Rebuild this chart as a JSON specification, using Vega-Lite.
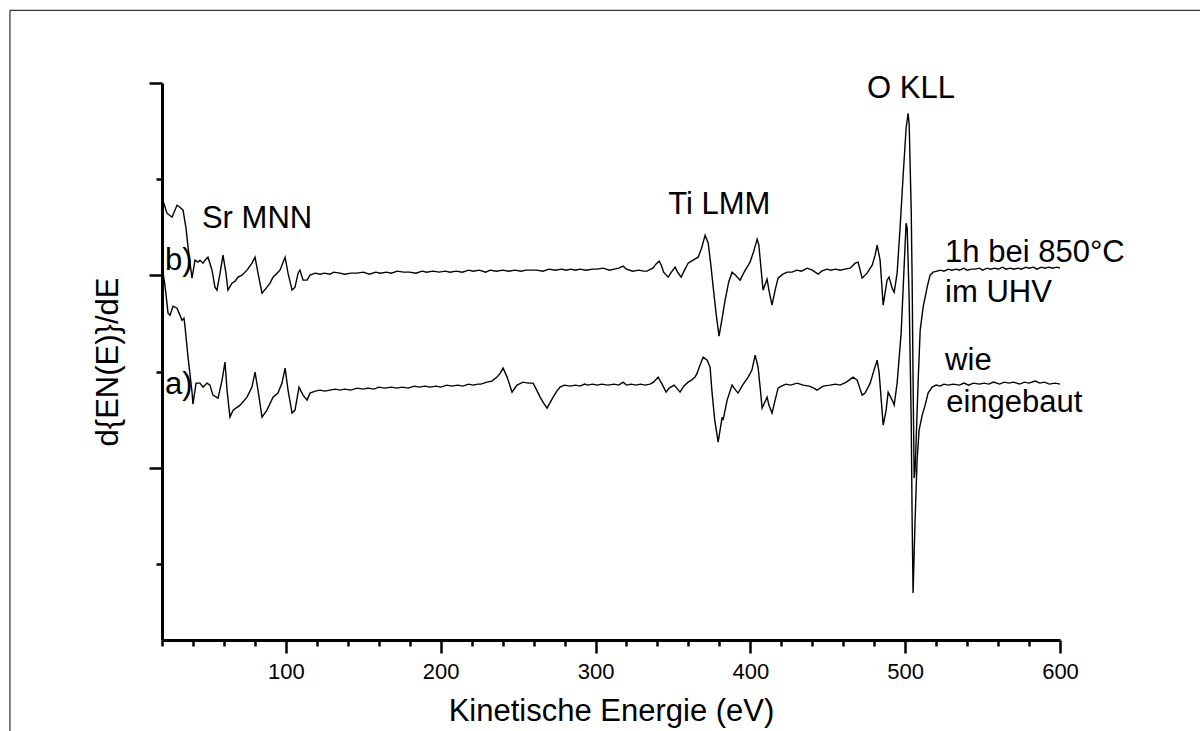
{
  "$schema": "https://vega.github.io/schema/vega-lite/v6.json",
  "width": 898,
  "height": 557,
  "autosize": {"type": "none"},
  "padding": {"left": 162, "top": 83, "right": 140, "bottom": 91},
  "background": "white",
  "config": {"view": {"stroke": null}, "font": "Liberation Sans"},
  "datasets": {
    "spectra": [
      {"series":"b","energy":20.6,"intensity":364},{"series":"b","energy":23.2,"intensity":351},{"series":"b","energy":26.5,"intensity":347},{"series":"b","energy":29.7,"intensity":359},{"series":"b","energy":31.6,"intensity":357},{"series":"b","energy":33.6,"intensity":354},{"series":"b","energy":35.5,"intensity":336},{"series":"b","energy":37.4,"intensity":309},{"series":"b","energy":39.4,"intensity":286},{"series":"b","energy":41.3,"intensity":304},{"series":"b","energy":43.3,"intensity":302},{"series":"b","energy":44.5,"intensity":304},{"series":"b","energy":46.5,"intensity":301},{"series":"b","energy":47.8,"intensity":304},{"series":"b","energy":49.7,"intensity":307},{"series":"b","energy":52.3,"intensity":294},{"series":"b","energy":54.2,"intensity":277},{"series":"b","energy":55.5,"intensity":274},{"series":"b","energy":57.5,"intensity":291},{"series":"b","energy":59.4,"intensity":309},{"series":"b","energy":61.3,"intensity":291},{"series":"b","energy":62.6,"intensity":274},{"series":"b","energy":65.2,"intensity":281},{"series":"b","energy":67.2,"intensity":283},{"series":"b","energy":69.1,"intensity":287},{"series":"b","energy":71.7,"intensity":289},{"series":"b","energy":74.9,"intensity":294},{"series":"b","energy":78.1,"intensity":301},{"series":"b","energy":80.1,"intensity":307},{"series":"b","energy":82.0,"intensity":291},{"series":"b","energy":84.6,"intensity":271},{"series":"b","energy":87.8,"intensity":277},{"series":"b","energy":89.8,"intensity":281},{"series":"b","energy":91.7,"intensity":287},{"series":"b","energy":94.3,"intensity":291},{"series":"b","energy":96.2,"intensity":294},{"series":"b","energy":99.5,"intensity":307},{"series":"b","energy":101.4,"intensity":291},{"series":"b","energy":104.0,"intensity":274},{"series":"b","energy":105.9,"intensity":277},{"series":"b","energy":107.9,"intensity":291},{"series":"b","energy":109.1,"intensity":294},{"series":"b","energy":111.1,"intensity":284},{"series":"b","energy":113.7,"intensity":284},{"series":"b","energy":115.6,"intensity":289},{"series":"b","energy":119,"intensity":291},{"series":"b","energy":122.1,"intensity":290},{"series":"b","energy":125,"intensity":291},{"series":"b","energy":128.5,"intensity":290},{"series":"b","energy":131,"intensity":292},{"series":"b","energy":135,"intensity":291},{"series":"b","energy":138,"intensity":290},{"series":"b","energy":142,"intensity":291},{"series":"b","energy":146,"intensity":291},{"series":"b","energy":150,"intensity":292},{"series":"b","energy":154,"intensity":290},{"series":"b","energy":158,"intensity":292},{"series":"b","energy":161,"intensity":291},{"series":"b","energy":165,"intensity":292},{"series":"b","energy":168,"intensity":291},{"series":"b","energy":172,"intensity":293},{"series":"b","energy":176,"intensity":292},{"series":"b","energy":180,"intensity":292},{"series":"b","energy":184,"intensity":291},{"series":"b","energy":188,"intensity":293},{"series":"b","energy":191,"intensity":292},{"series":"b","energy":195,"intensity":293},{"series":"b","energy":199,"intensity":292},{"series":"b","energy":203,"intensity":293},{"series":"b","energy":206,"intensity":292},{"series":"b","energy":210,"intensity":293},{"series":"b","energy":214,"intensity":292},{"series":"b","energy":218,"intensity":294},{"series":"b","energy":221,"intensity":293},{"series":"b","energy":225,"intensity":294},{"series":"b","energy":229,"intensity":292},{"series":"b","energy":232,"intensity":294},{"series":"b","energy":236,"intensity":293},{"series":"b","energy":240,"intensity":294},{"series":"b","energy":244,"intensity":293},{"series":"b","energy":248,"intensity":294},{"series":"b","energy":252,"intensity":293},{"series":"b","energy":255,"intensity":294},{"series":"b","energy":259,"intensity":294},{"series":"b","energy":262,"intensity":294},{"series":"b","energy":266,"intensity":293},{"series":"b","energy":270,"intensity":295},{"series":"b","energy":274,"intensity":294},{"series":"b","energy":278,"intensity":295},{"series":"b","energy":281,"intensity":294},{"series":"b","energy":284,"intensity":295},{"series":"b","energy":287,"intensity":294},{"series":"b","energy":290,"intensity":295},{"series":"b","energy":294,"intensity":294},{"series":"b","energy":298,"intensity":295},{"series":"b","energy":301,"intensity":295},{"series":"b","energy":305,"intensity":296},{"series":"b","energy":309,"intensity":294},{"series":"b","energy":312,"intensity":295},{"series":"b","energy":315,"intensity":296},{"series":"b","energy":317.8,"intensity":298},{"series":"b","energy":320,"intensity":295},{"series":"b","energy":324,"intensity":293},{"series":"b","energy":328,"intensity":294},{"series":"b","energy":331,"intensity":293},{"series":"b","energy":333.3,"intensity":293},{"series":"b","energy":337,"intensity":296},{"series":"b","energy":339,"intensity":300},{"series":"b","energy":341.1,"intensity":303},{"series":"b","energy":342.5,"intensity":299},{"series":"b","energy":344,"intensity":292},{"series":"b","energy":346.9,"intensity":287},{"series":"b","energy":349,"intensity":292},{"series":"b","energy":351.4,"intensity":297},{"series":"b","energy":353,"intensity":292},{"series":"b","energy":355.3,"intensity":287},{"series":"b","energy":357.5,"intensity":294},{"series":"b","energy":359.8,"intensity":301},{"series":"b","energy":363,"intensity":304},{"series":"b","energy":366.3,"intensity":307},{"series":"b","energy":368.5,"intensity":316},{"series":"b","energy":370.8,"intensity":329},{"series":"b","energy":372.8,"intensity":321},{"series":"b","energy":374.5,"intensity":299},{"series":"b","energy":376,"intensity":277},{"series":"b","energy":378,"intensity":249},{"series":"b","energy":379.8,"intensity":228},{"series":"b","energy":381.8,"intensity":246},{"series":"b","energy":383.7,"intensity":264},{"series":"b","energy":386,"intensity":282},{"series":"b","energy":388.2,"intensity":292},{"series":"b","energy":390.5,"intensity":289},{"series":"b","energy":393.4,"intensity":284},{"series":"b","energy":396,"intensity":292},{"series":"b","energy":399.8,"intensity":302},{"series":"b","energy":402,"intensity":312},{"series":"b","energy":404.4,"intensity":325},{"series":"b","energy":405.5,"intensity":319},{"series":"b","energy":407,"intensity":294},{"series":"b","energy":408.2,"intensity":274},{"series":"b","energy":410.8,"intensity":285},{"series":"b","energy":412,"intensity":274},{"series":"b","energy":414,"intensity":259},{"series":"b","energy":416,"intensity":274},{"series":"b","energy":417.9,"intensity":286},{"series":"b","energy":421,"intensity":290},{"series":"b","energy":423.8,"intensity":292},{"series":"b","energy":427,"intensity":292},{"series":"b","energy":430,"intensity":294},{"series":"b","energy":433,"intensity":293},{"series":"b","energy":436.7,"intensity":296},{"series":"b","energy":440,"intensity":294},{"series":"b","energy":443.8,"intensity":290},{"series":"b","energy":446,"intensity":293},{"series":"b","energy":449.6,"intensity":295},{"series":"b","energy":452,"intensity":294},{"series":"b","energy":455,"intensity":295},{"series":"b","energy":458,"intensity":294},{"series":"b","energy":461,"intensity":295},{"series":"b","energy":464.4,"intensity":296},{"series":"b","energy":467.7,"intensity":301},{"series":"b","energy":469.6,"intensity":302},{"series":"b","energy":472.2,"intensity":286},{"series":"b","energy":475.4,"intensity":291},{"series":"b","energy":478.7,"intensity":299},{"series":"b","energy":480.6,"intensity":309},{"series":"b","energy":481.9,"intensity":319},{"series":"b","energy":483.8,"intensity":304},{"series":"b","energy":485.8,"intensity":259},{"series":"b","energy":488.3,"intensity":284},{"series":"b","energy":489.6,"intensity":287},{"series":"b","energy":491.6,"intensity":276},{"series":"b","energy":492.9,"intensity":272},{"series":"b","energy":494.8,"intensity":291},{"series":"b","energy":496.7,"intensity":336},{"series":"b","energy":498.7,"intensity":389},{"series":"b","energy":500.6,"intensity":436},{"series":"b","energy":501.9,"intensity":451},{"series":"b","energy":502.6,"intensity":439},{"series":"b","energy":503.9,"intensity":354},{"series":"b","energy":504.5,"intensity":284},{"series":"b","energy":505.1,"intensity":184},{"series":"b","energy":505.8,"intensity":86},{"series":"b","energy":506.4,"intensity":94},{"series":"b","energy":507.1,"intensity":124},{"series":"b","energy":508.4,"intensity":184},{"series":"b","energy":509.7,"intensity":234},{"series":"b","energy":511.6,"intensity":257},{"series":"b","energy":514.2,"intensity":277},{"series":"b","energy":516.1,"intensity":289},{"series":"b","energy":518,"intensity":292},{"series":"b","energy":520.6,"intensity":293},{"series":"b","energy":523,"intensity":294},{"series":"b","energy":525,"intensity":293},{"series":"b","energy":528,"intensity":295},{"series":"b","energy":530,"intensity":294},{"series":"b","energy":533,"intensity":295},{"series":"b","energy":535,"intensity":294},{"series":"b","energy":538,"intensity":296},{"series":"b","energy":540,"intensity":294},{"series":"b","energy":543,"intensity":295},{"series":"b","energy":545,"intensity":295},{"series":"b","energy":548,"intensity":296},{"series":"b","energy":550,"intensity":294},{"series":"b","energy":553,"intensity":296},{"series":"b","energy":555,"intensity":295},{"series":"b","energy":558,"intensity":296},{"series":"b","energy":560,"intensity":295},{"series":"b","energy":563,"intensity":297},{"series":"b","energy":565,"intensity":295},{"series":"b","energy":568,"intensity":296},{"series":"b","energy":570,"intensity":295},{"series":"b","energy":573,"intensity":296},{"series":"b","energy":575,"intensity":295},{"series":"b","energy":578,"intensity":297},{"series":"b","energy":580,"intensity":296},{"series":"b","energy":583,"intensity":297},{"series":"b","energy":585,"intensity":295},{"series":"b","energy":588,"intensity":297},{"series":"b","energy":590,"intensity":296},{"series":"b","energy":593,"intensity":297},{"series":"b","energy":595,"intensity":296},{"series":"b","energy":598,"intensity":297},{"series":"b","energy":600,"intensity":296},
      {"series":"a","energy":20.6,"intensity":292},{"series":"a","energy":21.9,"intensity":279},{"series":"a","energy":23.2,"intensity":261},{"series":"a","energy":23.9,"intensity":251},{"series":"a","energy":25.2,"intensity":249},{"series":"a","energy":27.1,"intensity":258},{"series":"a","energy":29.7,"intensity":256},{"series":"a","energy":31.6,"intensity":249},{"series":"a","energy":32.9,"intensity":244},{"series":"a","energy":34.2,"intensity":246},{"series":"a","energy":34.9,"intensity":237},{"series":"a","energy":36.8,"intensity":207},{"series":"a","energy":39.4,"intensity":172},{"series":"a","energy":40.0,"intensity":160},{"series":"a","energy":42.0,"intensity":181},{"series":"a","energy":44.5,"intensity":181},{"series":"a","energy":46.5,"intensity":177},{"series":"a","energy":49.1,"intensity":181},{"series":"a","energy":51.0,"intensity":179},{"series":"a","energy":52.9,"intensity":169},{"series":"a","energy":56.2,"intensity":166},{"series":"a","energy":58.8,"intensity":184},{"series":"a","energy":60.7,"intensity":202},{"series":"a","energy":62.0,"intensity":174},{"series":"a","energy":63.9,"intensity":147},{"series":"a","energy":65.9,"intensity":154},{"series":"a","energy":70.4,"intensity":159},{"series":"a","energy":74.9,"intensity":167},{"series":"a","energy":78.1,"intensity":177},{"series":"a","energy":80.1,"intensity":192},{"series":"a","energy":82.0,"intensity":174},{"series":"a","energy":84.6,"intensity":147},{"series":"a","energy":87.8,"intensity":154},{"series":"a","energy":91.7,"intensity":167},{"series":"a","energy":94.9,"intensity":171},{"series":"a","energy":97.5,"intensity":181},{"series":"a","energy":99.5,"intensity":196},{"series":"a","energy":101.4,"intensity":174},{"series":"a","energy":104.0,"intensity":151},{"series":"a","energy":105.9,"intensity":154},{"series":"a","energy":108.5,"intensity":177},{"series":"a","energy":111.1,"intensity":169},{"series":"a","energy":113.7,"intensity":164},{"series":"a","energy":115.6,"intensity":171},{"series":"a","energy":119,"intensity":173},{"series":"a","energy":122.1,"intensity":174},{"series":"a","energy":125,"intensity":173},{"series":"a","energy":128.5,"intensity":174},{"series":"a","energy":132,"intensity":175},{"series":"a","energy":135,"intensity":174},{"series":"a","energy":138,"intensity":175},{"series":"a","energy":142,"intensity":174},{"series":"a","energy":146,"intensity":176},{"series":"a","energy":149.8,"intensity":175},{"series":"a","energy":153,"intensity":176},{"series":"a","energy":157,"intensity":175},{"series":"a","energy":160,"intensity":177},{"series":"a","energy":164,"intensity":176},{"series":"a","energy":168,"intensity":177},{"series":"a","energy":171.8,"intensity":176},{"series":"a","energy":175,"intensity":177},{"series":"a","energy":179,"intensity":176},{"series":"a","energy":183,"intensity":178},{"series":"a","energy":186,"intensity":177},{"series":"a","energy":190,"intensity":178},{"series":"a","energy":193.1,"intensity":177},{"series":"a","energy":197,"intensity":178},{"series":"a","energy":200,"intensity":177},{"series":"a","energy":204,"intensity":179},{"series":"a","energy":207,"intensity":178},{"series":"a","energy":211,"intensity":179},{"series":"a","energy":214.4,"intensity":178},{"series":"a","energy":218,"intensity":180},{"series":"a","energy":221,"intensity":179},{"series":"a","energy":224,"intensity":180},{"series":"a","energy":226,"intensity":180},{"series":"a","energy":229.9,"intensity":182},{"series":"a","energy":233,"intensity":183},{"series":"a","energy":236.4,"intensity":187},{"series":"a","energy":238.5,"intensity":191},{"series":"a","energy":240.3,"intensity":196},{"series":"a","energy":242.9,"intensity":187},{"series":"a","energy":246.1,"intensity":172},{"series":"a","energy":249.3,"intensity":179},{"series":"a","energy":253.2,"intensity":182},{"series":"a","energy":256.5,"intensity":181},{"series":"a","energy":259.7,"intensity":181},{"series":"a","energy":262,"intensity":174},{"series":"a","energy":264.2,"intensity":167},{"series":"a","energy":266.5,"intensity":161},{"series":"a","energy":268.7,"intensity":156},{"series":"a","energy":270.5,"intensity":161},{"series":"a","energy":272.6,"intensity":167},{"series":"a","energy":275,"intensity":173},{"series":"a","energy":277.1,"intensity":177},{"series":"a","energy":280,"intensity":179},{"series":"a","energy":283.6,"intensity":178},{"series":"a","energy":287,"intensity":179},{"series":"a","energy":290,"intensity":178},{"series":"a","energy":293,"intensity":180},{"series":"a","energy":295,"intensity":179},{"series":"a","energy":298,"intensity":180},{"series":"a","energy":301,"intensity":179},{"series":"a","energy":304,"intensity":180},{"series":"a","energy":308,"intensity":179},{"series":"a","energy":312,"intensity":180},{"series":"a","energy":315,"intensity":179},{"series":"a","energy":317.8,"intensity":182},{"series":"a","energy":320,"intensity":179},{"series":"a","energy":323,"intensity":180},{"series":"a","energy":326,"intensity":179},{"series":"a","energy":329,"intensity":180},{"series":"a","energy":332,"intensity":179},{"series":"a","energy":335.2,"intensity":180},{"series":"a","energy":337.5,"intensity":182},{"series":"a","energy":340.4,"intensity":187},{"series":"a","energy":343,"intensity":180},{"series":"a","energy":345.6,"intensity":172},{"series":"a","energy":347.5,"intensity":176},{"series":"a","energy":350.8,"intensity":179},{"series":"a","energy":352.5,"intensity":176},{"series":"a","energy":354.6,"intensity":172},{"series":"a","energy":357,"intensity":178},{"series":"a","energy":359.8,"intensity":182},{"series":"a","energy":362,"intensity":184},{"series":"a","energy":364.3,"intensity":187},{"series":"a","energy":365.6,"intensity":191},{"series":"a","energy":367.5,"intensity":199},{"series":"a","energy":369.5,"intensity":207},{"series":"a","energy":372.1,"intensity":204},{"series":"a","energy":374,"intensity":197},{"series":"a","energy":375.3,"intensity":171},{"series":"a","energy":377,"intensity":144},{"series":"a","energy":379.2,"intensity":122},{"series":"a","energy":381.8,"intensity":147},{"series":"a","energy":382.4,"intensity":144},{"series":"a","energy":385,"intensity":164},{"series":"a","energy":388.2,"intensity":179},{"series":"a","energy":390.5,"intensity":174},{"series":"a","energy":392.1,"intensity":171},{"series":"a","energy":395,"intensity":179},{"series":"a","energy":398.6,"intensity":187},{"series":"a","energy":401,"intensity":194},{"series":"a","energy":403.1,"intensity":209},{"series":"a","energy":405,"intensity":197},{"series":"a","energy":406.5,"intensity":174},{"series":"a","energy":407.6,"intensity":156},{"series":"a","energy":410.8,"intensity":167},{"series":"a","energy":412,"intensity":159},{"series":"a","energy":414,"intensity":151},{"series":"a","energy":416,"intensity":164},{"series":"a","energy":417.9,"intensity":176},{"series":"a","energy":420,"intensity":178},{"series":"a","energy":423,"intensity":180},{"series":"a","energy":426,"intensity":179},{"series":"a","energy":430.2,"intensity":181},{"series":"a","energy":434.1,"intensity":179},{"series":"a","energy":438,"intensity":178},{"series":"a","energy":441,"intensity":176},{"series":"a","energy":443.1,"intensity":174},{"series":"a","energy":447,"intensity":178},{"series":"a","energy":451.5,"intensity":179},{"series":"a","energy":455,"intensity":180},{"series":"a","energy":458,"intensity":179},{"series":"a","energy":462,"intensity":182},{"series":"a","energy":466.4,"intensity":187},{"series":"a","energy":469,"intensity":184},{"series":"a","energy":472.2,"intensity":169},{"series":"a","energy":474.1,"intensity":171},{"series":"a","energy":477.4,"intensity":181},{"series":"a","energy":479.3,"intensity":191},{"series":"a","energy":481.9,"intensity":204},{"series":"a","energy":483.2,"intensity":191},{"series":"a","energy":485.8,"intensity":139},{"series":"a","energy":487.7,"intensity":154},{"series":"a","energy":489,"intensity":172},{"series":"a","energy":491.6,"intensity":164},{"series":"a","energy":492.9,"intensity":159},{"series":"a","energy":494.8,"intensity":181},{"series":"a","energy":497.4,"intensity":231},{"series":"a","energy":499.3,"intensity":297},{"series":"a","energy":500.6,"intensity":341},{"series":"a","energy":501.3,"intensity":336},{"series":"a","energy":502.6,"intensity":264},{"series":"a","energy":503.9,"intensity":144},{"series":"a","energy":504.5,"intensity":44},{"series":"a","energy":505.1,"intensity":-29},{"series":"a","energy":506.4,"intensity":44},{"series":"a","energy":507.7,"intensity":104},{"series":"a","energy":509,"intensity":134},{"series":"a","energy":511,"intensity":149},{"series":"a","energy":512.9,"intensity":159},{"series":"a","energy":514.8,"intensity":171},{"series":"a","energy":517.4,"intensity":177},{"series":"a","energy":520,"intensity":179},{"series":"a","energy":522.6,"intensity":178},{"series":"a","energy":525,"intensity":180},{"series":"a","energy":528,"intensity":179},{"series":"a","energy":531,"intensity":180},{"series":"a","energy":535,"intensity":179},{"series":"a","energy":538,"intensity":181},{"series":"a","energy":541,"intensity":179},{"series":"a","energy":544,"intensity":181},{"series":"a","energy":548,"intensity":180},{"series":"a","energy":551,"intensity":181},{"series":"a","energy":554,"intensity":180},{"series":"a","energy":557,"intensity":182},{"series":"a","energy":561,"intensity":180},{"series":"a","energy":564,"intensity":182},{"series":"a","energy":567,"intensity":181},{"series":"a","energy":570,"intensity":182},{"series":"a","energy":574,"intensity":180},{"series":"a","energy":577,"intensity":182},{"series":"a","energy":580,"intensity":181},{"series":"a","energy":584,"intensity":183},{"series":"a","energy":587,"intensity":181},{"series":"a","energy":590,"intensity":182},{"series":"a","energy":593,"intensity":180},{"series":"a","energy":597,"intensity":181},{"series":"a","energy":600,"intensity":180}
    ],
    "labels": [
      {"text":"Sr MNN","energy":45.8,"intensity":336},
      {"text":"Ti LMM","energy":346.9,"intensity":350},
      {"text":"O KLL","energy":475.4,"intensity":466},
      {"text":"1h bei 850°C","energy":525.8,"intensity":302},
      {"text":"im UHV","energy":525.8,"intensity":262},
      {"text":"wie","energy":525.8,"intensity":194},
      {"text":"eingebaut","energy":526.5,"intensity":152},
      {"text":"b)","energy":21.9,"intensity":294},
      {"text":"a)","energy":21.9,"intensity":170}
    ],
    "frame": [{"energy": -78.2, "energy2": 900, "intensity": 554, "intensity2": -500}]
  },
  "encoding": {
    "x": {
      "field": "energy", "type": "quantitative",
      "scale": {"domain": [20, 600], "nice": false, "zero": false},
      "axis": {
        "title": "Kinetische Energie (eV)",
        "values": [20,40,60,80,100,120,140,160,180,200,220,240,260,280,300,320,340,360,380,400,420,440,460,480,500,520,540,560,580,600],
        "format": "d",
        "labelExpr": "datum.value % 100 === 0 ? datum.label : ''",
        "grid": false,
        "tickSize": 13,
        "tickDash": {"condition": {"test": "datum.value % 100 !== 0", "value": [6, 40]}, "value": []},
        "tickWidth": 2.5,
        "tickColor": "black",
        "domainWidth": 3,
        "domainColor": "black",
        "labelFont": "Liberation Sans",
        "labelFontSize": 22,
        "labelColor": "black",
        "labelPadding": 8,
        "labelFlush": false,
        "labelOverlap": false,
        "titleFont": "Liberation Sans",
        "titleFontSize": 31,
        "titleFontWeight": "normal",
        "titleColor": "black",
        "titlePadding": 14
      }
    },
    "y": {
      "field": "intensity", "type": "quantitative",
      "scale": {"domain": [-76, 481.25], "nice": false, "zero": false},
      "axis": {
        "title": "d{EN(E)}/dE",
        "values": [0, 96.25, 192.5, 288.75, 385, 481.25],
        "labels": false,
        "grid": false,
        "tickSize": 13,
        "tickDash": {"condition": {"test": "round(datum.value / 96.25) % 2 === 0", "value": [6, 40]}, "value": []},
        "tickWidth": 2.5,
        "tickColor": "black",
        "domainWidth": 3,
        "domainColor": "black",
        "titleFont": "Liberation Sans",
        "titleFontSize": 31,
        "titleFontWeight": "normal",
        "titleColor": "black",
        "titlePadding": 23
      }
    }
  },
  "layer": [
    {
      "data": {"name": "spectra"},
      "mark": {"type": "line", "color": "black", "strokeWidth": 1.4},
      "encoding": {
        "detail": {"field": "series", "type": "nominal"}
      }
    },
    {
      "data": {"name": "labels"},
      "mark": {"type": "text", "align": "left", "baseline": "alphabetic", "font": "Liberation Sans", "fontSize": 31, "color": "black"},
      "encoding": {
        "text": {"field": "text", "type": "nominal"}
      }
    },
    {
      "data": {"name": "frame"},
      "mark": {"type": "rect", "filled": false, "stroke": "black", "strokeWidth": 1, "clip": false},
      "encoding": {
        "x2": {"field": "energy2"},
        "y2": {"field": "intensity2"}
      }
    }
  ]
}
